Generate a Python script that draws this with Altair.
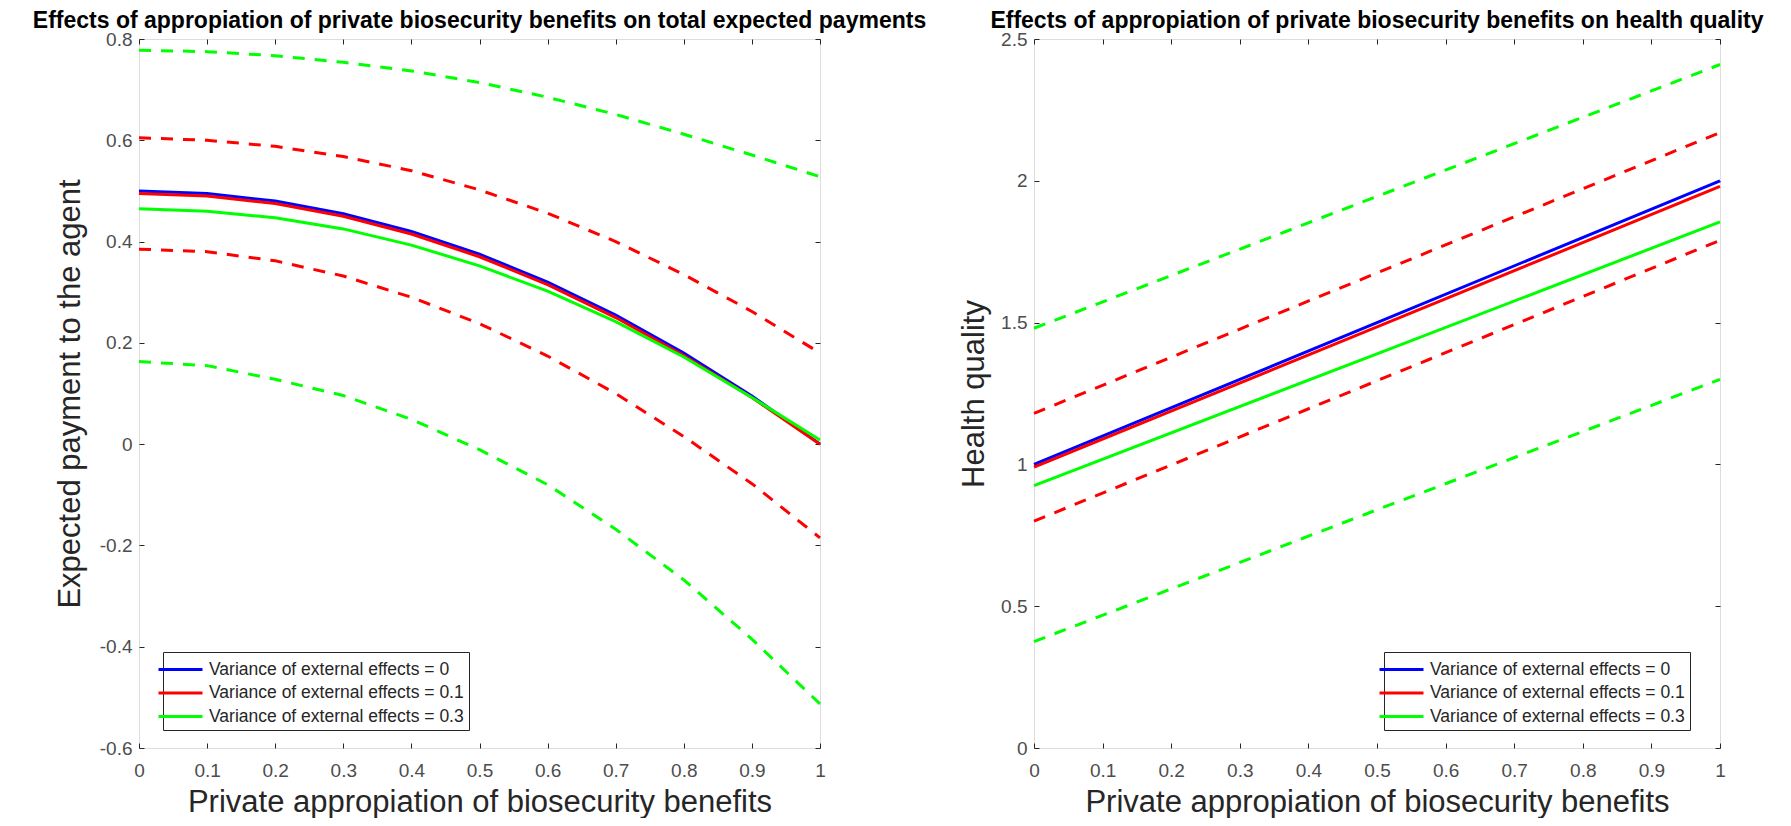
import altair as alt
import pandas as pd

FONT = "Liberation Sans"

# ---- data ----
series_names = [
    "Variance of external effects = 0",
    "Variance of external effects = 0.1",
    "Variance of external effects = 0.3",
]
series_colors = ["#0000ff", "#ff0000", "#00ff00"]

x_left = [0, 0.1, 0.2, 0.3, 0.4, 0.5, 0.6, 0.7, 0.8, 0.9, 1.0]
pay_v0 = [0.500, 0.495, 0.480, 0.455, 0.420, 0.375, 0.320, 0.255, 0.180, 0.095, 0.000]
pay_v01 = [0.495, 0.490, 0.475, 0.450, 0.415, 0.370, 0.315, 0.250, 0.175, 0.092, 0.000]
pay_v03 = [0.465, 0.460, 0.447, 0.425, 0.393, 0.352, 0.302, 0.242, 0.172, 0.092, 0.008]
pay_v01_hi = [0.605, 0.600, 0.588, 0.568, 0.540, 0.502, 0.456, 0.400, 0.335, 0.262, 0.180]
pay_v01_lo = [0.385, 0.380, 0.362, 0.332, 0.290, 0.238, 0.174, 0.100, 0.015, -0.078, -0.185]
pay_v03_hi = [0.778, 0.775, 0.767, 0.754, 0.737, 0.714, 0.685, 0.651, 0.612, 0.571, 0.528]
pay_v03_lo = [0.163, 0.155, 0.128, 0.096, 0.049, -0.011, -0.080, -0.168, -0.268, -0.385, -0.513]

x_right = [0, 0.5, 1.0]
hq_v0 = [1.000, 1.500, 2.000]
hq_v01 = [0.990, 1.485, 1.980]
hq_v03 = [0.925, 1.390, 1.855]
hq_v01_hi = [1.180, 1.675, 2.170]
hq_v01_lo = [0.800, 1.295, 1.790]
hq_v03_hi = [1.480, 1.945, 2.410]
hq_v03_lo = [0.375, 0.840, 1.300]

x_ticks = [0, 0.1, 0.2, 0.3, 0.4, 0.5, 0.6, 0.7, 0.8, 0.9, 1]
y_ticks_left = [-0.6, -0.4, -0.2, 0, 0.2, 0.4, 0.6, 0.8]
y_ticks_right = [0, 0.5, 1, 1.5, 2, 2.5]

x_title = "Private appropiation of biosecurity benefits"
left_title = "Effects of appropiation of private biosecurity benefits on total expected payments"
right_title = "Effects of appropiation of private biosecurity benefits on health quality"


def solid_frame(xs, cols):
    rows = []
    for name, ys in zip(series_names, cols):
        for xv, yv in zip(xs, ys):
            rows.append({"x": xv, "y": yv, "series": name})
    return pd.DataFrame(rows)


def dashed_frame(xs, pairs):
    rows = []
    for (name, col), (hi, lo) in zip(list(zip(series_names, series_colors))[1:], pairs):
        for bound, ys in (("hi", hi), ("lo", lo)):
            for xv, yv in zip(xs, ys):
                rows.append({"x": xv, "y": yv, "series": name, "col": col, "bound": bound})
    return pd.DataFrame(rows)


H = 709
TICK = "#262626"
LABEL_EXPR = "'' + datum.value"


def panel(solid, dashed, W, ydom, yticks, ytitle, title, ytitle_x, legend_x):
    xscale = alt.Scale(domain=[0, 1], nice=False, zero=False)
    yscale = alt.Scale(domain=ydom, nice=False, zero=False)

    x_main = alt.X("x:Q", scale=xscale, axis=alt.Axis(
        values=x_ticks, labelExpr=LABEL_EXPR, title=x_title, orient="bottom",
        tickSize=0, domain=False, grid=False, labelPadding=13, labelFontSize=19,
        labelColor="#4d4d4d", labelFont=FONT, labelFlush=False,
        titleFont=FONT, titleFontSize=31, titleFontWeight="normal", titleColor="#262626",
        titlePadding=7))
    y_main = alt.Y("y:Q", scale=yscale, axis=alt.Axis(
        values=yticks, labelExpr=LABEL_EXPR, title=ytitle, orient="left",
        tickSize=0, domain=False, grid=False, labelPadding=7, labelFontSize=19,
        labelColor="#4d4d4d", labelFont=FONT, labelFlush=False,
        titleFont=FONT, titleFontSize=31, titleFontWeight="normal", titleColor="#262626",
        titleX=ytitle_x, titleBaseline="bottom"))

    def tick_axis(orient, offset, values):
        return alt.Axis(values=values, orient=orient, offset=offset, labels=False,
                        domain=False, grid=False, ticks=True, tickSize=5,
                        tickColor=TICK, tickWidth=1, title=None)

    solid_layer = alt.Chart(solid).mark_line(strokeWidth=3).encode(
        x=x_main, y=y_main,
        color=alt.Color("series:N", scale=alt.Scale(domain=series_names, range=series_colors),
                        legend=alt.Legend(
                            title=None, orient="none", legendX=legend_x, legendY=613,
                            symbolType="M-2,0L2,0", symbolSize=484, symbolStrokeWidth=3,
                            labelFont=FONT, labelFontSize=17.5, labelColor="#262626",
                            labelOffset=16, strokeColor="#262626", fillColor="white",
                            padding=5, rowPadding=2.5, labelLimit=0)),
        order=alt.Order("x:Q"),
    )
    dashed_layer = alt.Chart(dashed).mark_line(strokeWidth=3, strokeDash=[12, 10]).encode(
        x=alt.X("x:Q", scale=xscale, axis=tick_axis("top", -H, x_ticks)),
        y=alt.Y("y:Q", scale=yscale, axis=tick_axis("right", -W, yticks)),
        stroke=alt.Stroke("col:N", scale=None),
        detail="bound:N",
        order=alt.Order("x:Q"),
    )
    ghost_layer = alt.Chart(solid).mark_line(opacity=0).encode(
        x=alt.X("x:Q", scale=xscale, axis=tick_axis("bottom", -H, x_ticks)),
        y=alt.Y("y:Q", scale=yscale, axis=tick_axis("left", -W, yticks)),
        detail="series:N",
    )
    return alt.layer(dashed_layer, solid_layer, ghost_layer).resolve_axis(
        x="independent", y="independent"
    ).properties(
        width=W, height=H,
        title=alt.TitleParams(title, font=FONT, fontSize=23, fontWeight="bold",
                              color="#000000", anchor="middle", frame="group",
                              baseline="alphabetic", offset=-21),
    )


left = panel(
    solid_frame(x_left, [pay_v0, pay_v01, pay_v03]),
    dashed_frame(x_left, [(pay_v01_hi, pay_v01_lo), (pay_v03_hi, pay_v03_lo)]),
    681, [-0.6, 0.8], y_ticks_left, "Expected payment to the agent", left_title, -53, 24,
)
right = panel(
    solid_frame(x_right, [hq_v0, hq_v01, hq_v03]),
    dashed_frame(x_right, [(hq_v01_hi, hq_v01_lo), (hq_v03_hi, hq_v03_lo)]),
    686, [0, 2.5], y_ticks_right, "Health quality", right_title, -44, 350,
)

chart = alt.hconcat(left, right, spacing=214, bounds="flush").resolve_scale(
    color="independent"
).configure_view(stroke="#262626", strokeWidth=1).configure(
    padding={"left": 24, "top": 1, "right": 0, "bottom": 0}, background="white"
)

chart.save("out.html", embed_options={"renderer": "svg", "actions": False})
